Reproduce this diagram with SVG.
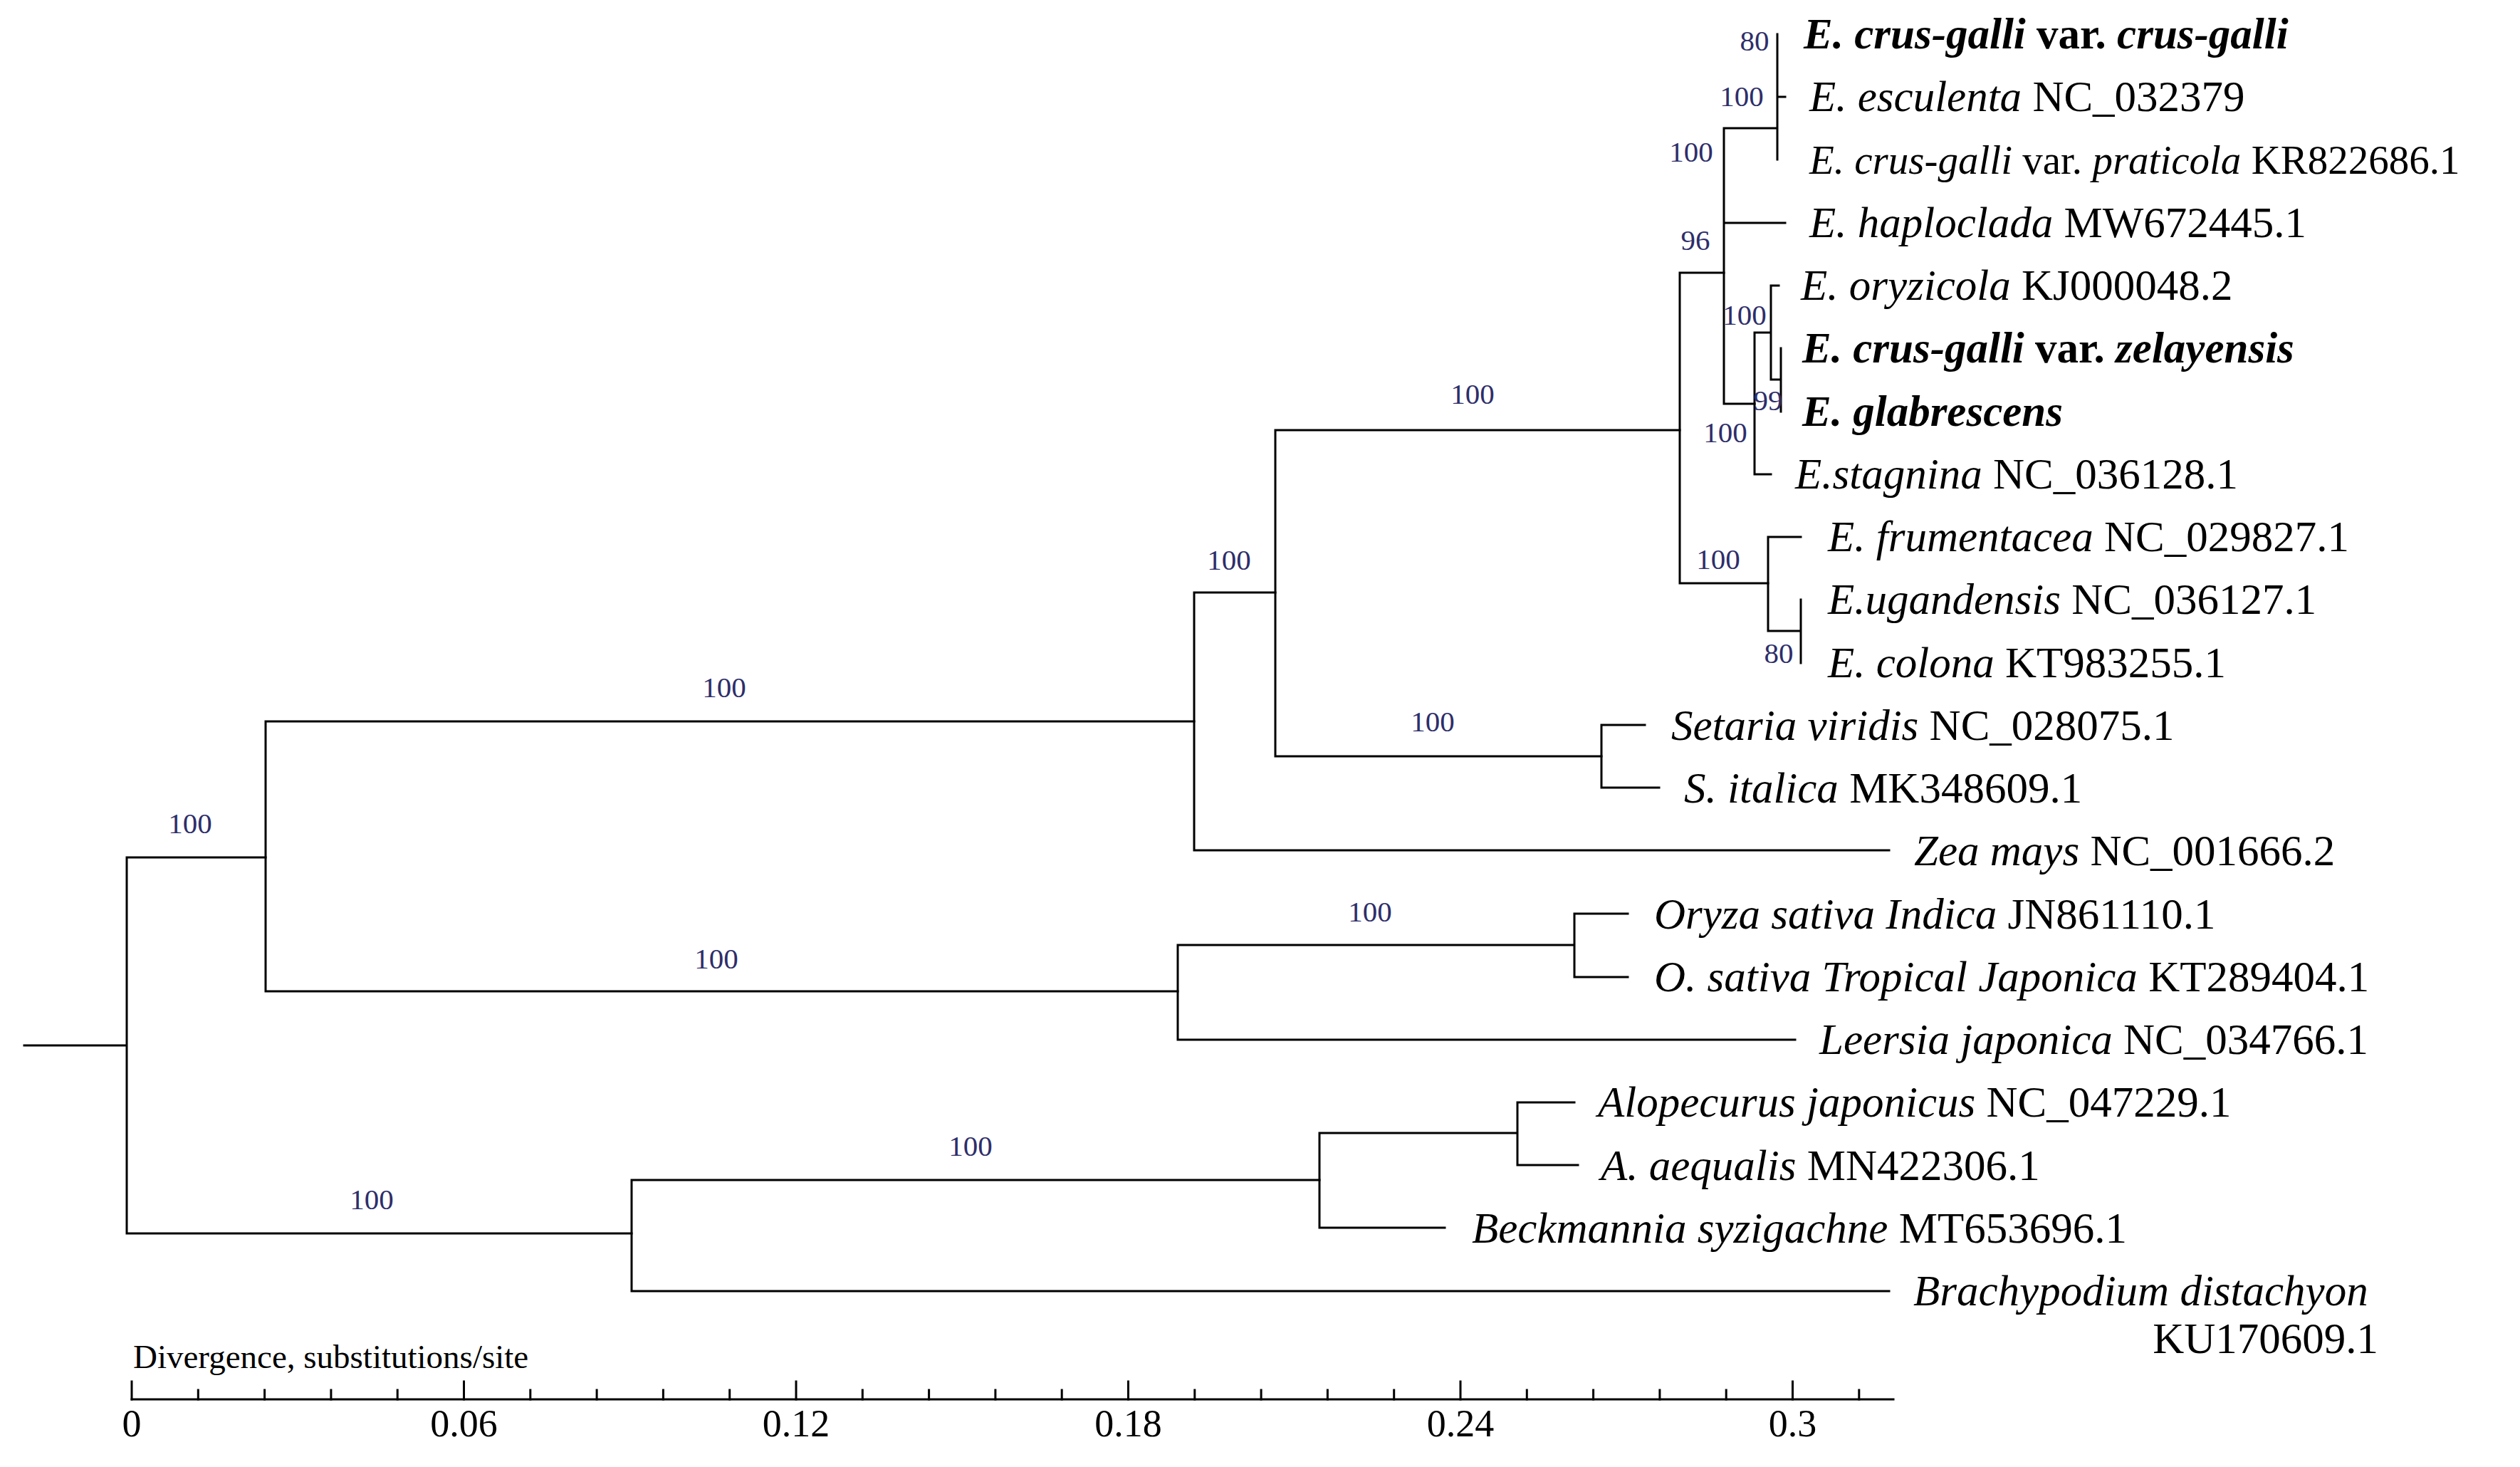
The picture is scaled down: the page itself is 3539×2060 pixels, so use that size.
<svg xmlns="http://www.w3.org/2000/svg" width="3539" height="2060" viewBox="0 0 3539 2060">
<style>
.br{fill:none;stroke:#000;stroke-width:3;stroke-linecap:square}
.tip{font-family:"Liberation Serif","Times New Roman",serif;font-size:61px;fill:#000}
.tip.sm{font-size:57px}
.b{font-weight:bold}
.i{font-style:italic}
.sup{font-family:"Liberation Serif","Times New Roman",serif;font-size:41px;fill:#2e2e6a;text-anchor:middle}
.ax{font-family:"Liberation Serif","Times New Roman",serif;fill:#000}
</style>
<rect width="3539" height="2060" fill="#fff"/>
<g id="connectors" class="br">
<path d="M34 1468H178M178 1204V1732M178 1204H373M178 1732H887"/>
<path d="M373 1013V1392M373 1013H1677M373 1392H1654"/>
<path d="M1677 832V1194M1677 832H1791M1677 1194H2653"/>
<path d="M1791 604V1062M1791 604H2359M1791 1062H2249"/>
<path d="M2249 1018V1106M2249 1018H2310M2249 1106H2330"/>
<path d="M2359 383V819M2359 383H2421M2359 819H2483"/>
<path d="M2421 180V567M2421 180H2496M2496 48V224M2496 136H2507M2421 313H2507M2421 567H2464"/>
<path d="M2464 467V666M2464 467H2487M2464 666H2487M2487 401V533M2487 401H2498M2487 533H2501M2501 489V578"/>
<path d="M2483 754V886M2483 754H2529M2483 886H2529M2529 842V931"/>
<path d="M1654 1327V1460M1654 1327H2211M1654 1460H2521M2211 1283V1372M2211 1283H2286M2211 1372H2286"/>
<path d="M887 1657V1813M887 1657H1853M887 1813H2653"/>
<path d="M1853 1591V1724M1853 1591H2131M1853 1724H2029M2131 1548V1636M2131 1548H2211M2131 1636H2216"/>
</g>
<g id="support">
<text class="sup" x="267" y="1170">100</text>
<text class="sup" x="522" y="1698">100</text>
<text class="sup" x="1017" y="979">100</text>
<text class="sup" x="1006" y="1360">100</text>
<text class="sup" x="1726" y="800">100</text>
<text class="sup" x="2068" y="567">100</text>
<text class="sup" x="2012" y="1027">100</text>
<text class="sup" x="2413" y="799">100</text>
<text class="sup" x="2381" y="351">96</text>
<text class="sup" x="2375" y="227">100</text>
<text class="sup" x="2464" y="71">80</text>
<text class="sup" x="2446" y="149">100</text>
<text class="sup" x="2450" y="456">100</text>
<text class="sup" x="2483" y="576">99</text>
<text class="sup" x="2423" y="621">100</text>
<text class="sup" x="2498" y="931">80</text>
<text class="sup" x="1924" y="1294">100</text>
<text class="sup" x="1363" y="1623">100</text>
</g>
<g id="tip1"><text class="tip b" x="2533" y="68"><tspan class="i">E. crus-galli</tspan> var. <tspan class="i">crus-galli</tspan></text></g>
<g id="tip2"><text class="tip" x="2541" y="156"><tspan class="i">E. esculenta</tspan> NC_032379</text></g>
<g id="tip3"><text class="tip sm" x="2541" y="244"><tspan class="i">E. crus-galli</tspan> var. <tspan class="i">praticola</tspan> KR822686.1</text></g>
<g id="tip4"><text class="tip" x="2541" y="333"><tspan class="i">E. haploclada</tspan> MW672445.1</text></g>
<g id="tip5"><text class="tip" x="2529" y="421"><tspan class="i">E. oryzicola</tspan> KJ000048.2</text></g>
<g id="tip6"><text class="tip b" x="2531" y="509"><tspan class="i">E. crus-galli</tspan> var. <tspan class="i">zelayensis</tspan></text></g>
<g id="tip7"><text class="tip b" x="2531" y="598"><tspan class="i">E. glabrescens</tspan></text></g>
<g id="tip8"><text class="tip" x="2521" y="686"><tspan class="i">E.stagnina</tspan> NC_036128.1</text></g>
<g id="tip9"><text class="tip" x="2567" y="774"><tspan class="i">E. frumentacea</tspan> NC_029827.1</text></g>
<g id="tip10"><text class="tip" x="2567" y="862"><tspan class="i">E.ugandensis</tspan> NC_036127.1</text></g>
<g id="tip11"><text class="tip" x="2567" y="951"><tspan class="i">E. colona</tspan> KT983255.1</text></g>
<g id="tip12"><text class="tip" x="2347" y="1039"><tspan class="i">Setaria viridis</tspan> NC_028075.1</text></g>
<g id="tip13"><text class="tip" x="2365" y="1127"><tspan class="i">S. italica</tspan> MK348609.1</text></g>
<g id="tip14"><text class="tip" x="2688" y="1215"><tspan class="i">Zea mays</tspan> NC_001666.2</text></g>
<g id="tip15"><text class="tip" x="2323" y="1304"><tspan class="i">Oryza sativa Indica</tspan> JN861110.1</text></g>
<g id="tip16"><text class="tip" x="2323" y="1392"><tspan class="i">O. sativa Tropical Japonica</tspan> KT289404.1</text></g>
<g id="tip17"><text class="tip" x="2555" y="1480"><tspan class="i">Leersia japonica</tspan> NC_034766.1</text></g>
<g id="tip18"><text class="tip" x="2244" y="1568"><tspan class="i">Alopecurus japonicus</tspan> NC_047229.1</text></g>
<g id="tip19"><text class="tip" x="2248" y="1657"><tspan class="i">A. aequalis</tspan> MN422306.1</text></g>
<g id="tip20"><text class="tip" x="2067" y="1745"><tspan class="i">Beckmannia syzigachne</tspan> MT653696.1</text></g>
<g id="tip21"><text class="tip i" x="2687" y="1833">Brachypodium distachyon</text><text class="tip" x="3340" y="1900" text-anchor="end">KU170609.1</text></g>
<g id="scale">
<text class="ax" x="187" y="1921" font-size="47">Divergence, substitutions/site</text>
<path class="br" d="M185 1965H2659"/>
<path class="br" d="M185 1965V1940M651.5 1965V1940M1118 1965V1940M1584.5 1965V1940M2051 1965V1940M2517.5 1965V1940"/>
<path class="br" d="M278.3 1965V1952M371.6 1965V1952M464.9 1965V1952M558.2 1965V1952M744.8 1965V1952M838.1 1965V1952M931.4 1965V1952M1024.7 1965V1952M1211.3 1965V1952M1304.6 1965V1952M1397.9 1965V1952M1491.2 1965V1952M1677.8 1965V1952M1771.1 1965V1952M1864.4 1965V1952M1957.7 1965V1952M2144.3 1965V1952M2237.6 1965V1952M2330.9 1965V1952M2424.2 1965V1952M2610.8 1965V1952"/>
<g class="ax" font-size="54" text-anchor="middle">
<text x="185" y="2017">0</text>
<text x="651.5" y="2017">0.06</text>
<text x="1118" y="2017">0.12</text>
<text x="1584.5" y="2017">0.18</text>
<text x="2051" y="2017">0.24</text>
<text x="2517.5" y="2017">0.3</text>
</g>
</g>
</svg>
